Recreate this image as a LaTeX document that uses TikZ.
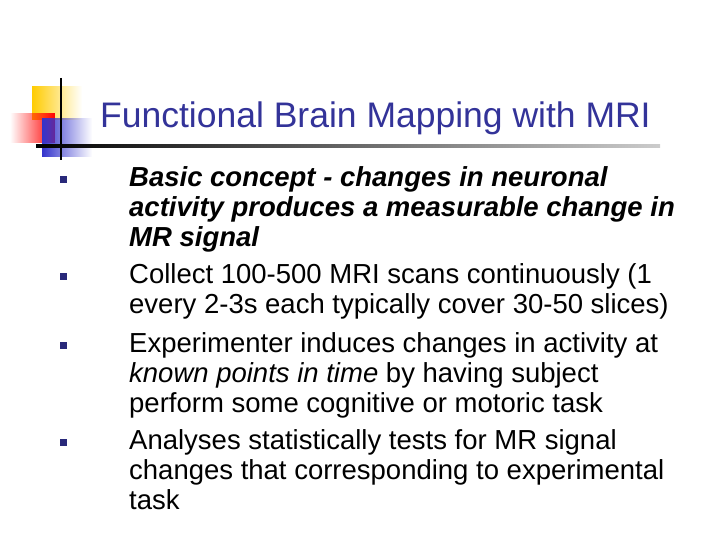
\documentclass[tikz,border=0pt]{standalone}
\usepackage{fontspec}
\setmainfont{Liberation Sans}
\usetikzlibrary{positioning, fadings}
\definecolor{title_blue}{RGB}{51, 51, 153}
\definecolor{logo_yellow}{RGB}{255, 204, 0}
\definecolor{logo_red}{RGB}{255, 0, 0}
\definecolor{logo_blue}{RGB}{51, 51, 204}

\begin{document}
\begin{tikzpicture}[x=1pt, y=-1pt,
    % Body line style
    line/.style={
        anchor=base west,
        inner sep=0pt,
        font=\fontsize{27.5}{30}\selectfont
    },
    % Bullet style
    bullet/.style={
        rectangle,
        fill=title_blue!80!black,
        minimum size=7pt,
        inner sep=0pt
    }
]
\useasboundingbox (0,0) rectangle (720,540);

% Logo
\fill[logo_yellow, path fading=east] (32,86) rectangle (82,120);
\fill[logo_red, path fading=west] (10,113) rectangle (55,143);
\fill[logo_blue, path fading=east] (42,118) rectangle (92,157);
\draw[line width=2.5pt] (61,78) -- (61,160);
\shade[left color=black, right color=black!20] (36,144.5) rectangle (660,147.5);

\node[anchor=base west, inner sep=0pt, text=title_blue,
      font=\fontsize{35.5}{40}\selectfont] (title) at (100,128)
      {Functional Brain Mapping with MRI};

% Bullets
\node[bullet] (b1) at (63,180) {};
\node[bullet] (b2) at (63,276) {};
\node[bullet] (b3) at (63,345) {};
\node[bullet] (b4) at (63,442) {};

% Text lines
\node[line, font=\fontsize{27.5}{30}\selectfont\bfseries\itshape] (t1) at (129,187) {Basic concept - changes in neuronal};
\node[line, font=\fontsize{27.5}{30}\selectfont\bfseries\itshape] (t2) at (129,217) {activity produces a measurable change in};
\node[line, font=\fontsize{27.5}{30}\selectfont\bfseries\itshape] (t3) at (129,247) {MR signal};
\node[line] (t4) at (129,283) {Collect 100-500 MRI scans continuously (1};
\node[line] (t5) at (129,313) {every 2-3s each typically cover 30-50 slices)};
\node[line] (t6) at (129,352) {Experimenter induces changes in activity at};
\node[line] (t7) at (129,382) {\textit{known points in time} by having subject};
\node[line] (t8) at (129,412) {perform some cognitive or motoric task};
\node[line] (t9) at (129,449) {Analyses statistically tests for MR signal};
\node[line] (t10) at (129,479) {changes that corresponding to experimental};
\node[line] (t11) at (129,509) {task};
\end{tikzpicture}
\end{document}
